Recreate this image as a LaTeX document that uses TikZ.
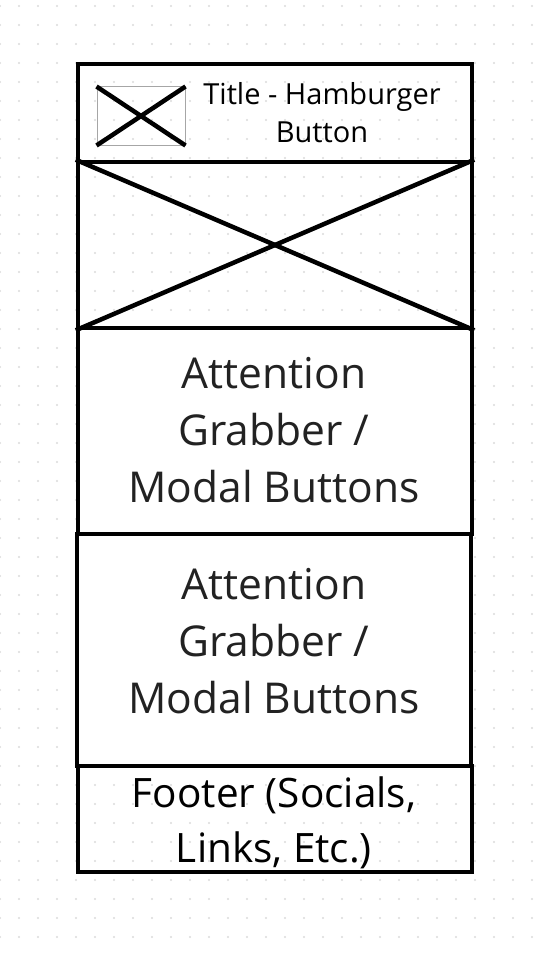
\documentclass[tikz,border=0pt]{standalone}
\usepackage{fontspec}
\setmainfont{Open Sans}
\usepackage{tikz}
\definecolor{dotgray}{RGB}{218,218,218}
\definecolor{inkgray}{RGB}{34,34,34}
\tikzset{
    section/.style={draw, line width=4.5pt, minimum width=394pt, inner sep=0pt},
    grabtext/.style={text=inkgray, align=center, font=\fontsize{42.5}{57}\selectfont}
}

\begin{document}
\begin{tikzpicture}[x=1pt, y=-1pt]
        \useasboundingbox (0,0) rectangle (544,955);
        % dotted grid
        \foreach \i in {0,...,28} {
            \foreach \j in {0,...,49} {
                \fill[dotgray] (19*\i,6+19*\j) circle (1.2pt);
            }
        }
        \node[section, minimum height=98pt] (title) at (275,113) {};
        \node[section, minimum height=166pt] (hero) at (275,245) {};
        \node[section, fill=white, minimum height=206pt] (grab1) at (275,431) {};
        \node[section, fill=white, minimum height=232pt] (grab2) at (274,650) {};
        \node[section, minimum height=106pt] (footer) at (275,819) {};
        % hamburger icon
        \node[draw=gray!70, line width=1pt, minimum width=88pt, minimum height=58pt, inner sep=0pt] (burger) at (141,116) {};
        \draw[line width=4.5pt] (burger.north west) -- (burger.south east);
        \draw[line width=4.5pt] (burger.south west) -- (burger.north east);
        \node[align=center, font=\fontsize{29}{38}\selectfont] (titletext) at (322,113) {Title - Hamburger \\ Button};
        % hero image
        \draw[line width=4.5pt] (hero.north west) -- (hero.south east);
        \draw[line width=4.5pt] (hero.south west) -- (hero.north east);
        \node[grabtext] (grabtext1) at (274,430) {Attention \\ Grabber / \\ Modal Buttons};
        \node[grabtext] (grabtext2) at (274,641) {Attention \\ Grabber / \\ Modal Buttons};
        \node[align=center, font=\fontsize{40.5}{55}\selectfont] (footertext) at (274,823) {Footer (Socials, \\ Links, Etc.)};
    \end{tikzpicture}
\end{document}
